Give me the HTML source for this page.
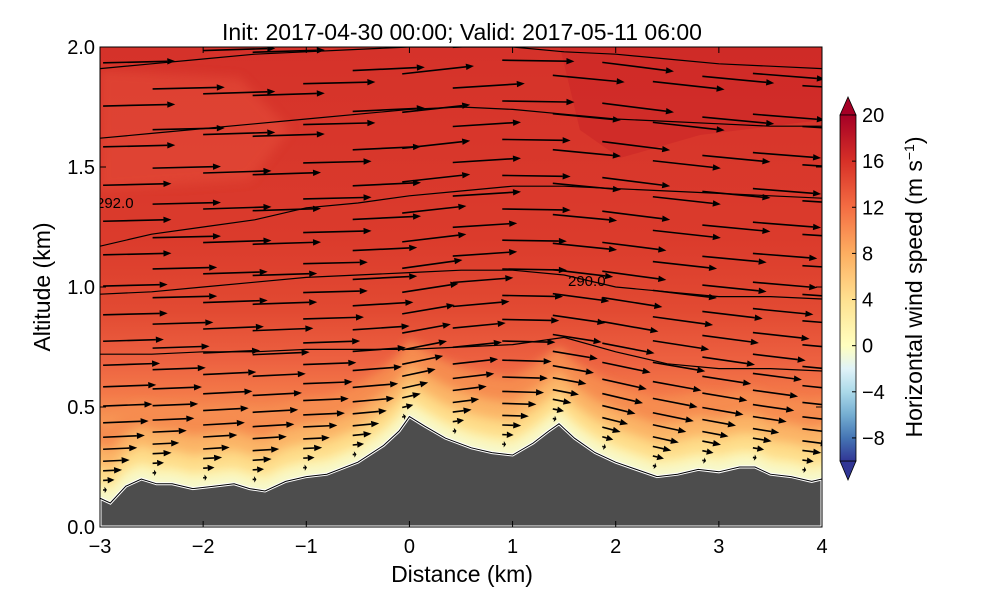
<!DOCTYPE html>
<html><head><meta charset="utf-8"><style>
body{margin:0;background:#fff;font-family:"Liberation Sans",sans-serif}
svg text{font-family:"Liberation Sans",sans-serif}
</style></head><body>
<svg id="c" width="1000" height="600" xmlns="http://www.w3.org/2000/svg">
<defs>
<linearGradient id="bg" x1="0" y1="47" x2="0" y2="527" gradientUnits="userSpaceOnUse">
<stop offset="0" stop-color="#d5322a"/><stop offset="0.4" stop-color="#db3b2c"/><stop offset="0.55" stop-color="#e24a32"/>
<stop offset="0.65" stop-color="#ec6040"/><stop offset="0.72" stop-color="#f37848"/><stop offset="0.8" stop-color="#f9a25a"/><stop offset="1" stop-color="#fee99a"/>
</linearGradient>
<linearGradient id="cbg" x1="0" y1="115" x2="0" y2="461" gradientUnits="userSpaceOnUse">
<stop offset="0" stop-color="#a50026"/><stop offset="0.133" stop-color="#d73027"/><stop offset="0.267" stop-color="#f46d43"/>
<stop offset="0.4" stop-color="#fdae61"/><stop offset="0.533" stop-color="#fee090"/><stop offset="0.667" stop-color="#ffffbf"/>
<stop offset="0.733" stop-color="#e0f3f8"/><stop offset="0.8" stop-color="#abd9e9"/><stop offset="0.867" stop-color="#74add1"/>
<stop offset="0.933" stop-color="#4575b4"/><stop offset="1" stop-color="#313695"/>
</linearGradient>
<filter id="bl" x="-5%" y="-5%" width="110%" height="110%"><feGaussianBlur stdDeviation="5"/></filter>
<clipPath id="pc"><rect x="100" y="47" width="722" height="480"/></clipPath>
</defs>
<g id="plot" clip-path="url(#pc)"></g>
<rect x="100" y="47" width="722" height="480" fill="none" stroke="#000" stroke-width="1"/>
<g id="axes"></g>
<text x="462" y="40" font-size="23" text-anchor="middle">Init: 2017-04-30 00:00; Valid: 2017-05-11 06:00</text>
<text x="462" y="582" font-size="23" text-anchor="middle">Distance (km)</text>
<text transform="translate(50,287) rotate(-90)" font-size="23" text-anchor="middle">Altitude (km)</text>
<g>
<polygon points="840,115 848,97 856,115" fill="#a50026" stroke="#000" stroke-width="0.8"/>
<polygon points="840,461 848,480 856,461" fill="#313695" stroke="#000" stroke-width="0.8"/>
<rect x="840" y="115" width="16" height="346" fill="url(#cbg)" stroke="#000" stroke-width="0.8"/>
<g id="cbt"></g>
<text transform="translate(922,287) rotate(-90)" font-size="23" text-anchor="middle">Horizontal wind speed (m s<tspan dy="-8" font-size="14">−1</tspan><tspan dy="8">)</tspan></text>
</g>
</svg>
<script>
const terrX=[-3,-2.9,-2.75,-2.6,-2.45,-2.3,-2.1,-1.9,-1.7,-1.55,-1.4,-1.2,-1,-0.8,-0.5,-0.25,-0.1,0,0.15,0.35,0.6,0.8,1.0,1.2,1.35,1.45,1.6,1.8,2.0,2.2,2.4,2.6,2.8,3.0,3.2,3.35,3.5,3.7,3.9,4.0];
const terrH=[0.12,0.10,0.17,0.20,0.18,0.18,0.16,0.17,0.18,0.16,0.15,0.19,0.21,0.22,0.27,0.34,0.40,0.46,0.42,0.37,0.33,0.31,0.30,0.35,0.40,0.43,0.37,0.31,0.27,0.24,0.21,0.22,0.24,0.23,0.25,0.25,0.22,0.21,0.19,0.20];
const colX=[-2.97,-2.49,-2.0,-1.52,-1.03,-0.55,-0.07,0.42,0.9,1.39,1.87,2.36,2.84,3.33,3.81];
const colTilt=[3,3,4,4,3,6,14,8,-2,-12,-16,-14,-12,-10,-8];
const levels=[0.04,0.08,0.12,0.16,0.21,0.26,0.32,0.39,0.47,0.56,0.66,0.77,0.89,1.02,1.16,1.31,1.47,1.64,1.82];
const speeds=[1,3,5,7,9,11,12,13,14,15,16,17,17,18,18,18,19,19,19];
const thetaX=[-3,-2.5,-2,-1.5,-1,-0.5,0,0.5,1,1.5,2,2.5,3,3.5,4];
const thetaLines=[
[1.91,1.93,1.95,1.97,1.98,1.99,2.0,2.0,2.0,1.98,1.97,1.95,1.93,1.92,1.91],
[1.62,1.64,1.66,1.68,1.70,1.72,1.74,1.75,1.74,1.72,1.70,1.69,1.68,1.67,1.67],
[1.17,1.22,1.25,1.28,1.33,1.35,1.38,1.40,1.42,1.42,1.41,1.40,1.39,1.38,1.37],
[0.97,0.98,1.0,1.02,1.04,1.05,1.06,1.07,1.07,1.05,1.0,0.98,0.96,0.96,0.95],
[0.72,0.72,0.73,0.73,0.74,0.74,0.74,0.75,0.76,0.79,0.73,0.68,0.66,0.66,0.65]];
const xTicks=[-3,-2,-1,0,1,2,3,4];
const yTicks=[0.0,0.5,1.0,1.5,2.0];
const cbTicks=[20,16,12,8,4,0,-4,-8];
const NS="http://www.w3.org/2000/svg";
const X=v=>100+(v+3)*722/7, Y=v=>527-v*240, CB=v=>115+(20-v)*346/30;
function mk(t,a,p){const e=document.createElementNS(NS,t);for(const k in a)e.setAttribute(k,a[k]);p.appendChild(e);return e;}
function terr(x){for(let i=0;i<terrX.length-1;i++){if(x<=terrX[i+1]){const f=(x-terrX[i])/(terrX[i+1]-terrX[i]);return terrH[i]+f*(terrH[i+1]-terrH[i]);}}return terrH[terrH.length-1];}
const plot=document.getElementById('plot');
const bg=mk('rect',{x:100,y:47,width:722,height:480,fill:'url(#bg)'},plot);


const patch=mk('path',{d:'M560,47 L822,47 L822,120 L700,135 L620,158 L580,130 Z',fill:'#cc2627',opacity:0.6},plot);


const patch2=mk('path',{d:'M100,70 L240,78 L290,130 L250,180 L100,190 Z',fill:'#e6503a',opacity:0.5,filter:'url(#bl)'},plot);


const bands=[[0.32,'#f68c4f'],[0.22,'#fbb466'],[0.14,'#fedb88'],[0.07,'#fdf3b0'],[0.03,'#f6f9d0']];
bands.forEach(b=>{let d='';for(let x=-3.2;x<=4.21;x+=0.05){d+=(d?'L':'M')+X(x).toFixed(1)+','+Y(terr(Math.max(-3,Math.min(4,x)))+b[0]).toFixed(1);}
d+='L'+X(4.2)+',540L'+X(-3.2)+',540Z';
const p=mk('path',{d:d,fill:b[1],filter:'url(#bl)'},plot);

});
thetaLines.forEach(l=>{const d=l.map((v,i)=>(i?'L':'M')+X(thetaX[i]).toFixed(1)+','+Y(v).toFixed(1)).join('');
const p=mk('path',{d:d,fill:'none',stroke:'#000','stroke-width':1.2},plot);

});
colX.forEach((cx,ci)=>{const h=terr(Math.max(-3,cx));levels.forEach((lv,li)=>{
 const alt=h+lv; if(alt>2.02)return; const u=speeds[li]; const L=u*3.8;
 const t=colTilt[ci]*Math.max(0.45,1-lv/1.5)*Math.PI/180;
 const x0=X(cx), y0=Y(alt), x1=x0+L*Math.cos(t), y1=y0-L*Math.sin(t);
 const g=mk('g',{},plot);
 
 
 const hl=Math.min(8,L*0.6);
 const hx=x1-hl*Math.cos(t), hy=y1+hl*Math.sin(t), nx=3.2*Math.sin(t), ny=3.2*Math.cos(t);
 mk('line',{x1:x0,y1:y0,x2:hx,y2:hy,stroke:'#000','stroke-width':1.6},g);
 mk('polygon',{points:`${x1},${y1} ${hx+nx},${hy+ny} ${hx-nx},${hy-ny}`,fill:'#000'},g);});});
let td='M'+X(-3)+','+Y(0)+' '+terrX.map((x,i)=>'L'+X(x).toFixed(1)+','+Y(terrH[i]).toFixed(1)).join('')+'L'+X(4)+','+Y(0)+'Z';
const tp=mk('path',{d:td,fill:'#4d4d4d',stroke:'#fff','stroke-width':3},plot);


const tl=mk('path',{d:terrX.map((x,i)=>(i?'L':'M')+X(x).toFixed(1)+','+Y(terrH[i]).toFixed(1)).join(''),fill:'none',stroke:'#000','stroke-width':1},plot);


const l1=mk('text',{x:96,y:208,'font-size':15},plot);l1.textContent='292.0';


const l2=mk('text',{x:568,y:286,'font-size':15},plot);l2.textContent='290.0';


const ax=document.getElementById('axes');
xTicks.forEach(v=>{mk('line',{x1:X(v),x2:X(v),y1:527,y2:521,stroke:'#000'},ax);mk('line',{x1:X(v),x2:X(v),y1:47,y2:53,stroke:'#000'},ax);
const t=mk('text',{x:X(v),y:553,'font-size':20,'text-anchor':'middle'},ax);t.textContent=(v<0?'−':'')+Math.abs(v);

});
yTicks.forEach(v=>{mk('line',{x1:100,x2:106,y1:Y(v),y2:Y(v),stroke:'#000'},ax);mk('line',{x1:822,x2:816,y1:Y(v),y2:Y(v),stroke:'#000'},ax);
const t=mk('text',{x:95,y:Y(v)+7,'font-size':20,'text-anchor':'end'},ax);t.textContent=v.toFixed(1);

});
const cb=document.getElementById('cbt');
cbTicks.forEach(v=>{mk('line',{x1:852,x2:856,y1:CB(v),y2:CB(v),stroke:'#000'},cb);
const t=mk('text',{x:862,y:CB(v)+7,'font-size':20},cb);t.textContent=(v<0?'−':'')+Math.abs(v);

});
</script>
</body></html>
